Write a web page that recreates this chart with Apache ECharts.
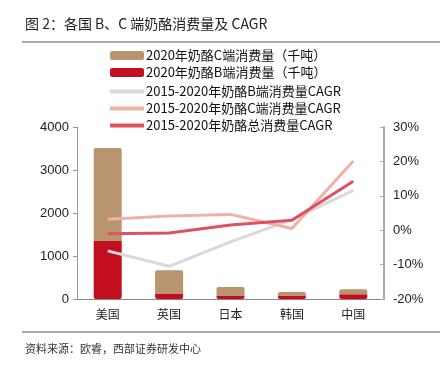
<!DOCTYPE html>
<html><head><meta charset="utf-8">
<script src="https://cdn.jsdelivr.net/npm/echarts@6/dist/echarts.min.js"></script>
<style>html,body{margin:0;padding:0;background:#fff}#c{width:446px;height:369px}</style>
</head><body><div id="c"></div>
<script>
const categories = ['美国','英国','日本','韩国','中国'];
const consumptionB = [1350, 130, 70, 80, 110];
const consumptionC = [2160, 540, 210, 80, 115];
const cagrB = [-6.0, -10.5, -3.4, 3.1, 11.6];
const cagrC = [3.2, 4.1, 4.6, 0.5, 20.1];
const cagrTotal = [-1.0, -0.8, 1.5, 2.9, 14.2];

const F = '"Noto Sans CJK SC", "Liberation Sans", sans-serif';
const N = '"Liberation Sans", sans-serif';
const chart = echarts.init(document.getElementById('c'));
const legendText = {fontSize:13, color:'#111', fontFamily:F, padding:[0,0,0,-3]};
chart.setOption({
  animation: false,
  textStyle: {fontFamily: F},
  graphic: [
    {type:'text', left:25, top:17, style:{text:'图 2：各国 B、C 端奶酪消费量及 CAGR', font:'14px ' + F, fill:'#222'}},
    {type:'line', shape:{x1:22, y1:42, x2:440, y2:42}, style:{stroke:'#555', lineWidth:1}},
    {type:'line', shape:{x1:22, y1:332, x2:440, y2:332}, style:{stroke:'#555', lineWidth:1}},
    {type:'text', left:25, top:343, style:{text:'资料来源：欧睿，西部证券研发中心', font:'11px ' + F, fill:'#333'}}
  ],
  legend: [{
    orient:'vertical', left:110, top:49, padding:0, itemGap:4, itemWidth:34, itemHeight:9,
    textStyle:legendText, icon:'roundRect',
    data:['2020年奶酪C端消费量（千吨）','2020年奶酪B端消费量（千吨）']
  },{
    orient:'vertical', left:110, top:85, padding:0, itemGap:4, itemWidth:34, itemHeight:4,
    textStyle:legendText, icon:'rect',
    data:['2015-2020年奶酪B端消费量CAGR','2015-2020年奶酪C端消费量CAGR','2015-2020年奶酪总消费量CAGR']
  }],
  grid: {left:77, right:62, top:127, bottom:70},
  xAxis: {
    type:'category', data:categories,
    axisLine:{lineStyle:{color:'#888'}},
    axisTick:{inside:true, length:4, lineStyle:{color:'#888'}},
    axisLabel:{color:'#222', fontSize:12, margin:9, fontFamily:F}
  },
  yAxis: [
    {type:'value', min:0, max:4000, interval:1000,
     axisLine:{show:true, lineStyle:{color:'#999'}},
     axisTick:{show:true, length:4, lineStyle:{color:'#999'}},
     splitLine:{show:false},
     axisLabel:{color:'#222', fontSize:13, margin:8, fontFamily:N, formatter:v => String(v)}},
    {type:'value', min:-20, max:30, interval:10,
     axisLine:{show:true, lineStyle:{color:'#aaa', width:2}},
     axisTick:{show:true, inside:true, length:4, lineStyle:{color:'#aaa'}},
     splitLine:{show:false},
     axisLabel:{color:'#222', fontSize:13, margin:9, formatter:'{value}%', fontFamily:N}}
  ],
  series: [
    {name:'2020年奶酪B端消费量（千吨）', type:'bar', stack:'s', data:consumptionB, barWidth:28,
     itemStyle:{color:'#C20E1E', borderRadius:[0,0,2,2]}},
    {name:'2020年奶酪C端消费量（千吨）', type:'bar', stack:'s', data:consumptionC, barWidth:28,
     itemStyle:{color:'#B8956F', borderRadius:[2,2,0,0]}},
    {name:'2015-2020年奶酪B端消费量CAGR', type:'line', yAxisIndex:1, data:cagrB, symbol:'none',
     lineStyle:{color:'#D9D9D9', width:3}, itemStyle:{color:'#D9D9D9'}},
    {name:'2015-2020年奶酪C端消费量CAGR', type:'line', yAxisIndex:1, data:cagrC, symbol:'none',
     lineStyle:{color:'#EFB1A6', width:3}, itemStyle:{color:'#EFB1A6'}},
    {name:'2015-2020年奶酪总消费量CAGR', type:'line', yAxisIndex:1, data:cagrTotal, symbol:'none',
     lineStyle:{color:'#DF5063', width:3}, itemStyle:{color:'#DF5063'}}
  ]
});
</script></body></html>
